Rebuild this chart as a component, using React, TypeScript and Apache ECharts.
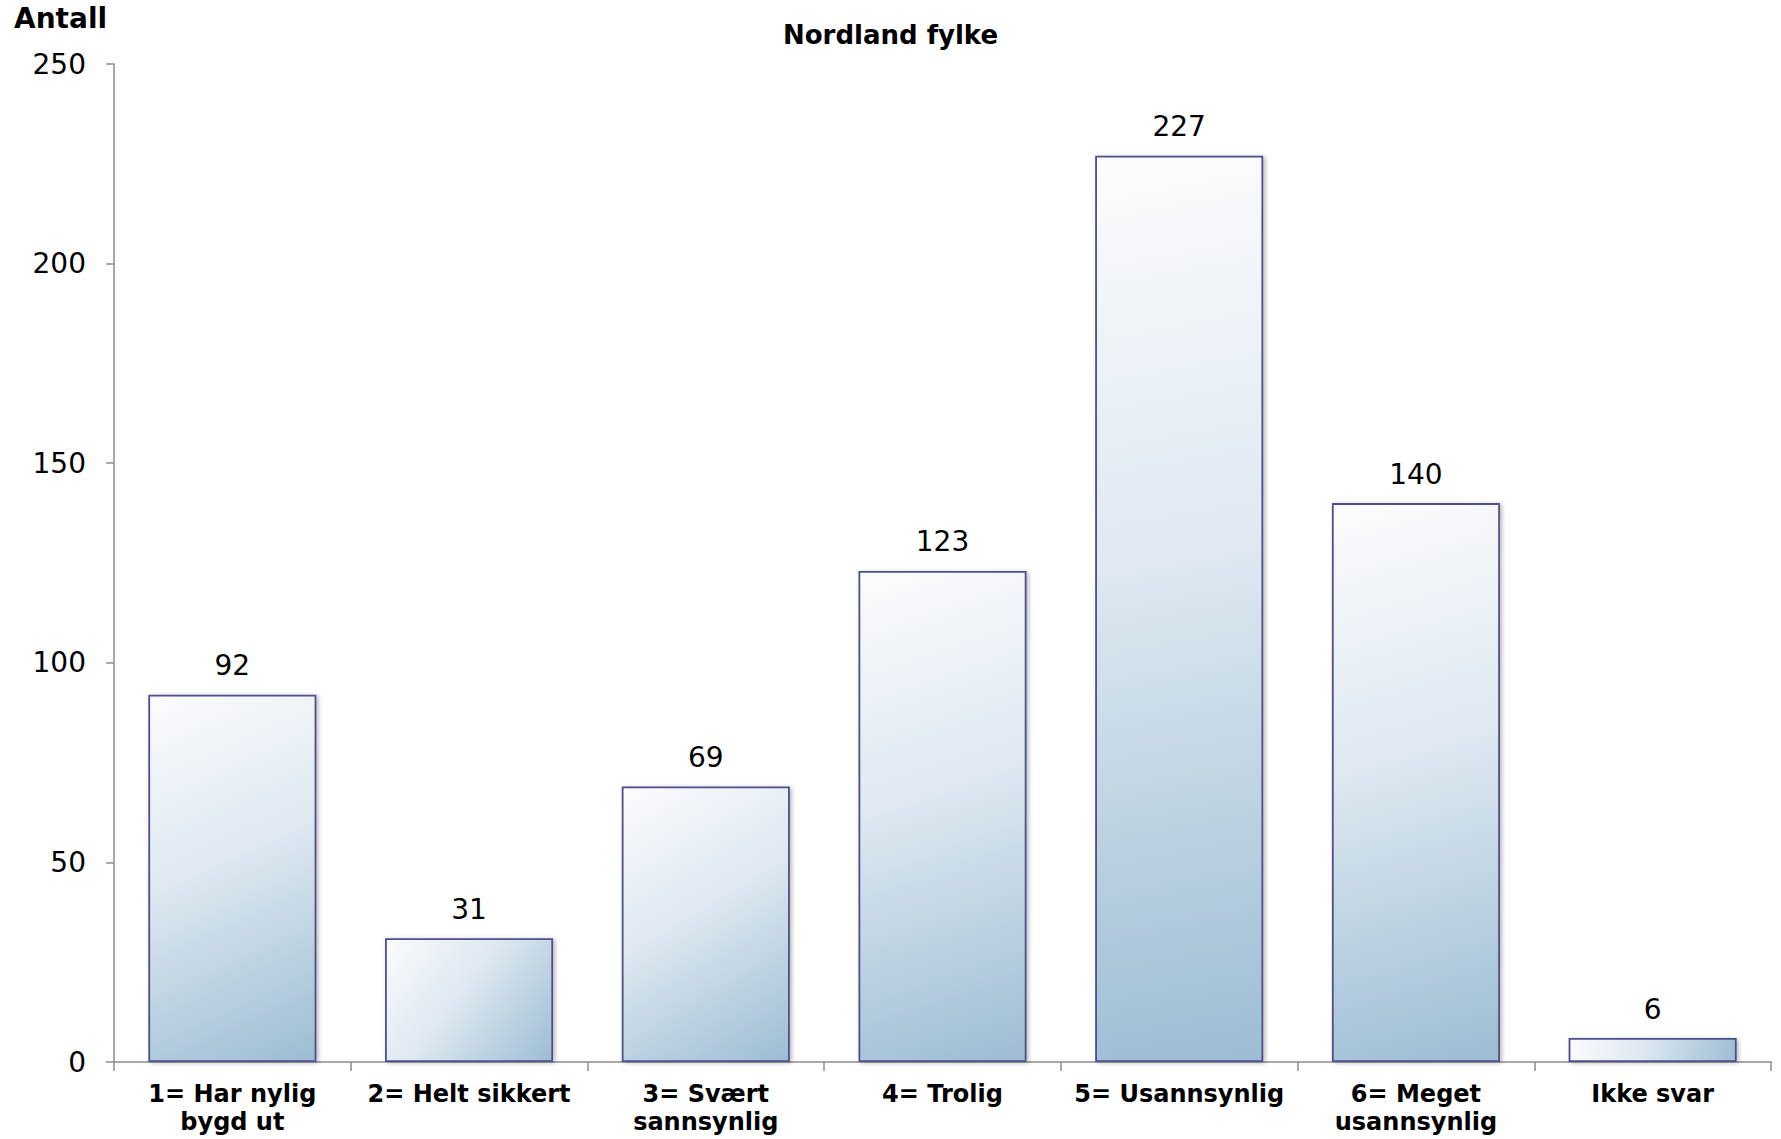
import React, { useEffect, useRef } from "react";
import * as echarts from "echarts";

const categories = [
  "1= Har nylig\nbygd ut",
  "2= Helt sikkert",
  "3= Svært\nsannsynlig",
  "4= Trolig",
  "5= Usannsynlig",
  "6= Meget\nusannsynlig",
  "Ikke svar",
];
const values = [92, 31, 69, 123, 227, 140, 6];
const titleText = "Nordland fylke";
const yAxisTitle = "Antall";
const yMin = 0;
const yMax = 250;
const yInterval = 50;

const GAP = 0.29;
const stops = [
  { offset: 0, color: "#fbfcfe" },
  { offset: 0.45, color: "#dde8f0" },
  { offset: 1, color: "#9cbcd3" },
];

export default function App() {
  const ref = useRef<HTMLDivElement>(null);
  useEffect(() => {
    if (!ref.current) return;
    const chart = echarts.init(ref.current, null, { renderer: "svg" });
    const font = "'DejaVu Sans', Verdana, sans-serif";
    const baseItemStyle = {
      color: "#c8d9e6",
      borderColor: "#50508f",
      borderWidth: 1.8,
      shadowColor: "rgba(0,0,0,0.28)",
      shadowBlur: 4,
      shadowOffsetX: 2,
      shadowOffsetY: 1,
    };
    chart.setOption({
      animation: false,
      backgroundColor: "#ffffff",
      title: {
        text: titleText,
        left: "center",
        top: 17,
        textStyle: { fontFamily: font, fontSize: 26, fontWeight: "bold", color: "#000" },
      },
      graphic: [
        {
          type: "text",
          left: 14,
          top: 4,
          style: { text: yAxisTitle, fontFamily: font, fontSize: 28, fontWeight: "bold", fill: "#000" },
        },
      ],
      grid: { left: 114, right: 10, top: 64, bottom: 77, containLabel: false },
      xAxis: {
        type: "category",
        data: categories,
        axisLine: { show: true, lineStyle: { color: "#8c8c8c", width: 1.5 } },
        axisTick: { show: true, length: 9, lineStyle: { color: "#8c8c8c", width: 1.5 } },
        axisLabel: {
          interval: 0,
          margin: 18,
          fontFamily: font,
          fontSize: 24,
          fontWeight: "bold",
          color: "#000",
          lineHeight: 28,
        },
      },
      yAxis: {
        type: "value",
        min: yMin,
        max: yMax,
        interval: yInterval,
        splitLine: { show: false },
        axisLine: { show: true, lineStyle: { color: "#8c8c8c", width: 1.5 } },
        axisTick: { show: true, length: 8, lineStyle: { color: "#8c8c8c", width: 1.5 } },
        axisLabel: { margin: 28, fontFamily: font, fontSize: 28, color: "#000" },
      },
      series: [
        {
          type: "bar",
          data: values,
          barCategoryGap: GAP * 100 + "%",
          itemStyle: baseItemStyle,
          label: {
            show: true,
            position: "top",
            distance: 15,
            fontFamily: font,
            fontSize: 28,
            color: "#000",
          },
        },
      ],
    });

    // Per-bar gradient in pixel space (along the bar's own diagonal), like the original.
    const c0 = chart.convertToPixel({ xAxisIndex: 0 }, 0) as number;
    const c1 = chart.convertToPixel({ xAxisIndex: 0 }, 1) as number;
    const band = c1 - c0;
    const barW = band * (1 - GAP);
    const data = values.map((v, i) => {
      const cx = chart.convertToPixel({ xAxisIndex: 0 }, i) as number;
      const yTop = chart.convertToPixel({ yAxisIndex: 0 }, v) as number;
      const yBot = chart.convertToPixel({ yAxisIndex: 0 }, 0) as number;
      const x0 = cx - barW / 2;
      const x1 = cx + barW / 2;
      return {
        value: v,
        itemStyle: {
          color: new echarts.graphic.LinearGradient(x0, yTop, x1, yBot, stops, true),
        },
      };
    });
    chart.setOption({ series: [{ data }] });

    return () => chart.dispose();
  }, []);
  return (
    <div
      ref={ref}
      style={{ position: "fixed", left: 0, top: 0, width: 1781, height: 1139, background: "#fff" }}
    />
  );
}
